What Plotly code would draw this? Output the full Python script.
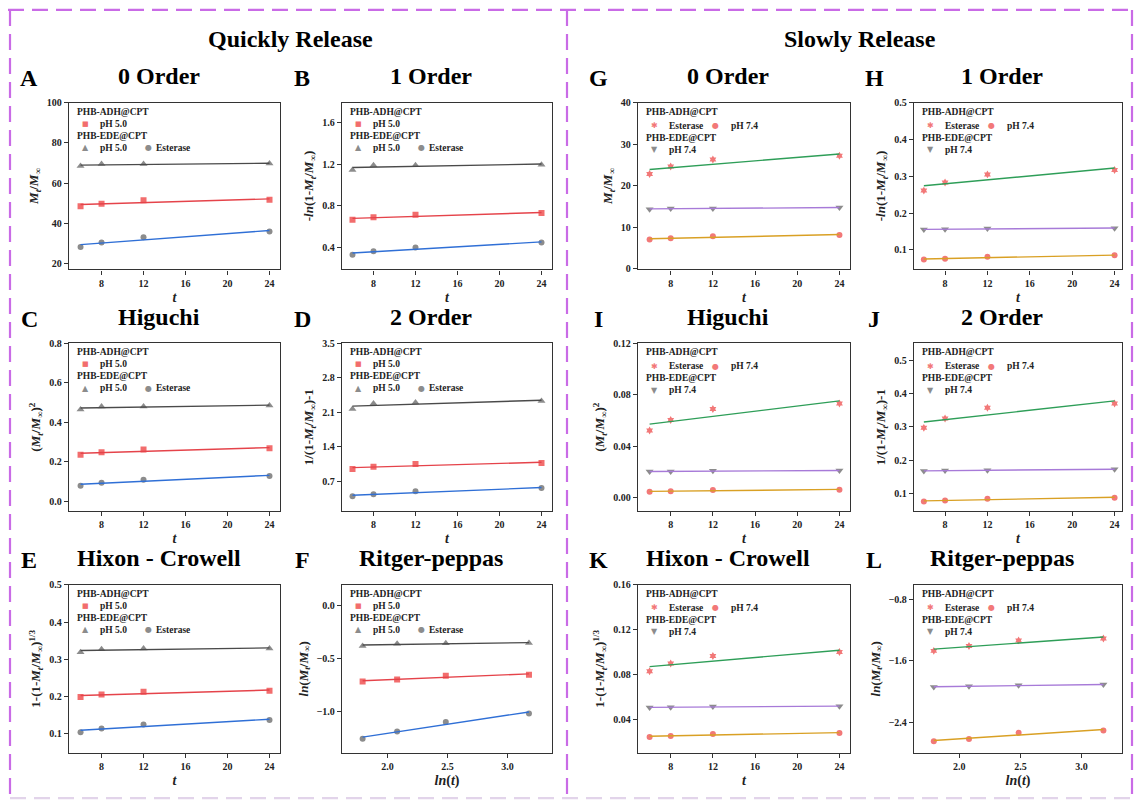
import numpy as np
import plotly.graph_objects as go

W, H = 1135, 805
FONT = "Liberation Serif"

# ---------------- data ----------------
t_hours = [6, 8, 12, 24]
ln_t = [float(v) for v in np.log(t_hours)]

# Quickly release: PHB-EDE@CPT pH 5.0 (triangle), PHB-ADH@CPT pH 5.0 (square), PHB-EDE@CPT Esterase (circle)
A_ede_ph5 = [68.5, 69.5, 69.5, 69.8]
A_adh_ph5 = [48.5, 49.8, 51.5, 51.8]
A_ede_est = [28.3, 30.5, 33.2, 36.0]

B_ede_ph5 = [1.144, 1.19, 1.19, 1.195]
B_adh_ph5 = [0.666, 0.69, 0.713, 0.73]
B_ede_est = [0.33, 0.363, 0.40, 0.447]

C_ede_ph5 = [0.465, 0.48, 0.48, 0.485]
C_adh_ph5 = [0.235, 0.248, 0.262, 0.268]
C_ede_est = [0.078, 0.093, 0.108, 0.128]

D_ede_ph5 = [2.17, 2.28, 2.30, 2.33]
D_adh_ph5 = [0.95, 0.995, 1.055, 1.075]
D_ede_est = [0.40, 0.44, 0.50, 0.566]

E_ede_ph5 = [0.319, 0.327, 0.329, 0.329]
E_adh_ph5 = [0.198, 0.205, 0.212, 0.215]
E_ede_est = [0.103, 0.113, 0.124, 0.136]

F_ede_ph5 = [-0.385, -0.363, -0.36, -0.357]
F_adh_ph5 = [-0.72, -0.70, -0.665, -0.655]
F_ede_est = [-1.26, -1.19, -1.10, -1.02]

# Slowly release: PHB-ADH@CPT Esterase, PHB-EDE@CPT pH 7.4 (down triangle), PHB-ADH@CPT pH 7.4
G_adh_est = [22.8, 24.6, 26.3, 27.2]
G_ede_ph74 = [14.3, 14.5, 14.5, 14.7]
G_adh_ph74 = [7.0, 7.3, 7.8, 8.1]

H_adh_est = [0.261, 0.283, 0.305, 0.317]
H_ede_ph74 = [0.155, 0.156, 0.158, 0.159]
H_adh_ph74 = [0.074, 0.076, 0.081, 0.085]

I_adh_est = [0.0523, 0.0605, 0.069, 0.0733]
I_ede_ph74 = [0.0204, 0.0204, 0.021, 0.0212]
I_adh_ph74 = [0.0048, 0.0051, 0.0061, 0.0064]

J_adh_est = [0.297, 0.325, 0.357, 0.370]
J_ede_ph74 = [0.168, 0.169, 0.170, 0.173]
J_adh_ph74 = [0.0765, 0.0795, 0.085, 0.088]

K_adh_est = [0.0829, 0.0897, 0.0965, 0.100]
K_ede_ph74 = [0.0503, 0.0506, 0.0512, 0.0515]
K_adh_ph74 = [0.0241, 0.025, 0.0268, 0.0276]

L_adh_est = [-1.469, -1.405, -1.332, -1.306]
L_ede_ph74 = [-1.94, -1.93, -1.92, -1.91]
L_adh_ph74 = [-2.65, -2.62, -2.54, -2.51]

t_ticks = [8, 12, 16, 20, 24]
lnt_ticks = [2.0, 2.5, 3.0]

# ---------------- text ----------------
MT = "<i>M</i><sub><i>t</i></sub>/<i>M</i><sub>∞</sub>"
YT = {
    "zero": MT,
    "one": "-<i>ln</i>(1-" + MT + ")",
    "hig": "(" + MT + ")<sup>2</sup>",
    "two": "1/(1-" + MT + ")-1",
    "hix": "1-(1-" + MT + ")<sup>1/3</sup>",
    "rp": "<i>ln</i>(" + MT + ")",
}
XT_T = "<i>t</i>"
XT_LN = "<i>ln</i>(<i>t</i>)"

# ---------------- layout geometry (px) ----------------
COLS = [(69, 280), (342, 552), (638, 850), (914, 1122)]
ROWS = [(98, 267), (342, 512), (587, 757)]

panels = [
    dict(L="A", title="0 Order", c=0, r=0, kind="q", x=t_hours, xt=XT_T, yt=YT["zero"], s=[A_ede_ph5, A_adh_ph5, A_ede_est],
         xr=[4.9, 25], xtk=t_ticks, yr=[17.2, 100], ytk=[20, 40, 60, 80, 100], fmt="d"),
    dict(L="B", title="1 Order", c=1, r=0, kind="q", x=t_hours, xt=XT_T, yt=YT["one"], s=[B_ede_ph5, B_adh_ph5, B_ede_est],
         xr=[5.0, 25], xtk=t_ticks, yr=[0.19, 1.79], ytk=[0.4, 0.8, 1.2, 1.6], fmt=".1f"),
    dict(L="C", title="Higuchi", c=0, r=1, kind="q", x=t_hours, xt=XT_T, yt=YT["hig"], s=[C_ede_ph5, C_adh_ph5, C_ede_est],
         xr=[4.9, 25], xtk=t_ticks, yr=[-0.05, 0.8], ytk=[0.0, 0.2, 0.4, 0.6, 0.8], fmt=".1f"),
    dict(L="D", title="2 Order", c=1, r=1, kind="q", x=t_hours, xt=XT_T, yt=YT["two"], s=[D_ede_ph5, D_adh_ph5, D_ede_est],
         xr=[5.0, 25], xtk=t_ticks, yr=[0.1, 3.5], ytk=[0.7, 1.4, 2.1, 2.8, 3.5], fmt=".1f"),
    dict(L="E", title="Hixon - Crowell", c=0, r=2, kind="q", x=t_hours, xt=XT_T, yt=YT["hix"], s=[E_ede_ph5, E_adh_ph5, E_ede_est],
         xr=[4.9, 25], xtk=t_ticks, yr=[0.048, 0.5], ytk=[0.1, 0.2, 0.3, 0.4, 0.5], fmt=".1f"),
    dict(L="F", title="Ritger-peppas", c=1, r=2, kind="q", x=ln_t, xt=XT_LN, yt=YT["rp"], s=[F_ede_ph5, F_adh_ph5, F_ede_est],
         xr=[1.62, 3.37], xtk=lnt_ticks, yr=[-1.39, 0.19], ytk=[-1.0, -0.5, 0.0], fmt=".1f"),
    dict(L="G", title="0 Order", c=2, r=0, kind="s", x=t_hours, xt=XT_T, yt=YT["zero"], s=[G_adh_est, G_ede_ph74, G_adh_ph74],
         xr=[4.9, 25], xtk=t_ticks, yr=[-0.2, 40], ytk=[0, 10, 20, 30, 40], fmt="d"),
    dict(L="H", title="1 Order", c=3, r=0, kind="s", x=t_hours, xt=XT_T, yt=YT["one"], s=[H_adh_est, H_ede_ph74, H_adh_ph74],
         xr=[5.07, 24.7], xtk=t_ticks, yr=[0.047, 0.5], ytk=[0.1, 0.2, 0.3, 0.4, 0.5], fmt=".1f"),
    dict(L="I", title="Higuchi", c=2, r=1, kind="s", x=t_hours, xt=XT_T, yt=YT["hig"], s=[I_adh_est, I_ede_ph74, I_adh_ph74],
         xr=[4.9, 25], xtk=t_ticks, yr=[-0.0102, 0.12], ytk=[0.0, 0.04, 0.08, 0.12], fmt=".2f"),
    dict(L="J", title="2 Order", c=3, r=1, kind="s", x=t_hours, xt=XT_T, yt=YT["two"], s=[J_adh_est, J_ede_ph74, J_adh_ph74],
         xr=[5.07, 24.7], xtk=t_ticks, yr=[0.048, 0.55], ytk=[0.1, 0.2, 0.3, 0.4, 0.5], fmt=".1f"),
    dict(L="K", title="Hixon - Crowell", c=2, r=2, kind="s", x=t_hours, xt=XT_T, yt=YT["hix"], s=[K_adh_est, K_ede_ph74, K_adh_ph74],
         xr=[4.9, 25], xtk=t_ticks, yr=[0.01, 0.16], ytk=[0.04, 0.08, 0.12, 0.16], fmt=".2f"),
    dict(L="L", title="Ritger-peppas", c=3, r=2, kind="s", x=ln_t, xt=XT_LN, yt=YT["rp"], s=[L_adh_est, L_ede_ph74, L_adh_ph74],
         xr=[1.63, 3.33], xtk=lnt_ticks, yr=[-2.8, -0.607], ytk=[-2.4, -1.6, -0.8], fmt=".1f"),
]

GRAY_M = "#8c8c8c"
RED_M = "#f26d6d"
PINK_M = "#f27878"
STYLE = {
    "q": [dict(sym="triangle-up", mc=GRAY_M, lc="#4a4a4a", sz=7),
          dict(sym="square", mc=RED_M, lc="#e5434a", sz=6),
          dict(sym="circle", mc=GRAY_M, lc="#2f6fd6", sz=6)],
    "s": [dict(sym="hexagram", mc=PINK_M, lc="#2e9e58", sz=6),
          dict(sym="triangle-down", mc=GRAY_M, lc="#a77ad8", sz=7),
          dict(sym="circle", mc=PINK_M, lc="#d9a024", sz=6)],
}

fig = go.Figure()
annotations = []
shapes = []


def px_x(v):
    return v / W


def px_y(v):
    return 1 - v / H


for i, p in enumerate(panels):
    n = i + 1
    sfx = "" if n == 1 else str(n)
    xa, ya = "x" + sfx, "y" + sfx
    x0, x1 = COLS[p["c"]]
    y0, y1 = ROWS[p["r"]]
    xs = np.array(p["x"], dtype=float)
    for ser, st in zip(p["s"], STYLE[p["kind"]]):
        ys = np.array(ser, dtype=float)
        k, b = np.polyfit(xs, ys, 1)
        xf = np.array([xs.min(), xs.max()])
        fig.add_trace(go.Scatter(x=xs, y=ys, mode="markers", xaxis=xa, yaxis=ya, showlegend=False,
                                 marker=dict(symbol=st["sym"], color=st["mc"], size=st["sz"], line=dict(width=0))))
        fig.add_trace(go.Scatter(x=xf, y=k * xf + b, mode="lines", xaxis=xa, yaxis=ya, showlegend=False,
                                 line=dict(color=st["lc"], width=1.4)))
    axcommon = dict(showline=True, mirror=True, linecolor="#333333", linewidth=1.3, ticks="outside", ticklen=4,
                    tickwidth=1.1, tickcolor="#333333", showgrid=False, zeroline=False)
    tfont = dict(family=FONT, size=10, color="#222222", weight="bold")
    fig.update_layout(**{
        "xaxis" + sfx: dict(axcommon, domain=[px_x(x0), px_x(x1)], anchor=ya, range=p["xr"], tickvals=p["xtk"],
                            tickformat=".1f" if p["x"] is ln_t else "d", tickfont=tfont,
                            title=dict(text=p["xt"], font=dict(family=FONT, size=14, color="#222222", weight="bold"), standoff=4)),
        "yaxis" + sfx: dict(axcommon, domain=[px_y(y1), px_y(y0)], anchor=xa, range=p["yr"], tickvals=p["ytk"],
                            tickformat=p["fmt"], tickfont=tfont,
                            title=dict(text=p["yt"], font=dict(family=FONT, size=13, color="#222222", weight="bold"), standoff=5)),
    })
    # panel title and letter
    cx = (x0 + x1) / 2 - 16
    annotations.append(dict(text=p["title"], x=px_x(cx), y=px_y(y0 - 27), xref="paper", yref="paper", showarrow=False,
                            xanchor="center", yanchor="middle", font=dict(family=FONT, size=24, color="#000000", weight="bold")))
    annotations.append(dict(text=p["L"], x=px_x(x0 - 40), y=px_y(y0 - 25), xref="paper", yref="paper", showarrow=False,
                            xanchor="center", yanchor="middle", font=dict(family=FONT, size=24, color="#000000", weight="bold")))
    # in-plot legend
    dref = dict(xref=xa + " domain", yref=ya + " domain", x=0, y=1, showarrow=False, yanchor="middle")
    lf = dict(family=FONT, size=9.5, color="#222222", weight="bold")
    gf = lambda c, s: dict(family="DejaVu Sans", size=s, color=c)
    if p["kind"] == "q":
        items = [
            (9, 6, "PHB-ADH@CPT", lf, "left"),
            (21, 16, "■", gf(RED_M, 7), "center"), (21, 29, "pH 5.0", lf, "left"),
            (33, 6, "PHB-EDE@CPT", lf, "left"),
            (45, 16, "▲", gf(GRAY_M, 8), "center"), (45, 29, "pH 5.0", lf, "left"),
            (45, 79, "●", gf(GRAY_M, 8), "center"), (45, 85, "Esterase", lf, "left"),
        ]
    else:
        items = [
            (9, 6, "PHB-ADH@CPT", lf, "left"),
            (23, 16, "✱", gf(PINK_M, 8), "center"), (23, 29, "Esterase", lf, "left"),
            (23, 77, "●", gf(PINK_M, 8), "center"), (23, 91, "pH 7.4", lf, "left"),
            (35, 6, "PHB-EDE@CPT", lf, "left"),
            (47, 16, "▼", gf(GRAY_M, 8), "center"), (47, 29, "pH 7.4", lf, "left"),
        ]
    for dy, dx, txt, f, xan in items:
        annotations.append(dict(dref, text=txt, xshift=dx, yshift=-dy, font=f, xanchor=xan))

# section headers
annotations.append(dict(text="Quickly Release", x=px_x(290), y=px_y(33), xref="paper", yref="paper", showarrow=False,
                        xanchor="center", yanchor="middle", font=dict(family=FONT, size=24, color="#000000", weight="bold")))
annotations.append(dict(text="Slowly Release", x=px_x(860), y=px_y(33), xref="paper", yref="paper", showarrow=False,
                        xanchor="center", yanchor="middle", font=dict(family=FONT, size=24, color="#000000", weight="bold")))

# dashed frame
BORDER = "#c96be6"
dash_line = dict(color=BORDER, width=2.2, dash="16px,8px")
for (ax0, ay0, ax1, ay1) in [(8, 4, 1133, 4), (10, 4, 10, 803), (567, 4, 567, 803), (1132, 4, 1132, 803)]:
    shapes.append(dict(type="line", xref="paper", yref="paper", x0=px_x(ax0), y0=px_y(ay0), x1=px_x(ax1), y1=px_y(ay1),
                       line=dash_line))
shapes.append(dict(type="line", xref="paper", yref="paper", x0=px_x(10), y0=px_y(803), x1=px_x(1132), y1=px_y(803),
                   line=dict(color="#e2d4ea", width=2.2, dash="16px,8px")))

fig.update_layout(width=W, height=H, margin=dict(l=0, r=0, t=0, b=0), paper_bgcolor="white", plot_bgcolor="white",
                  annotations=annotations, shapes=shapes, showlegend=False)

fig.write_html("out.html", config={"displayModeBar": False},
               post_script="document.body.style.margin='0px';document.body.style.overflow='hidden';")
